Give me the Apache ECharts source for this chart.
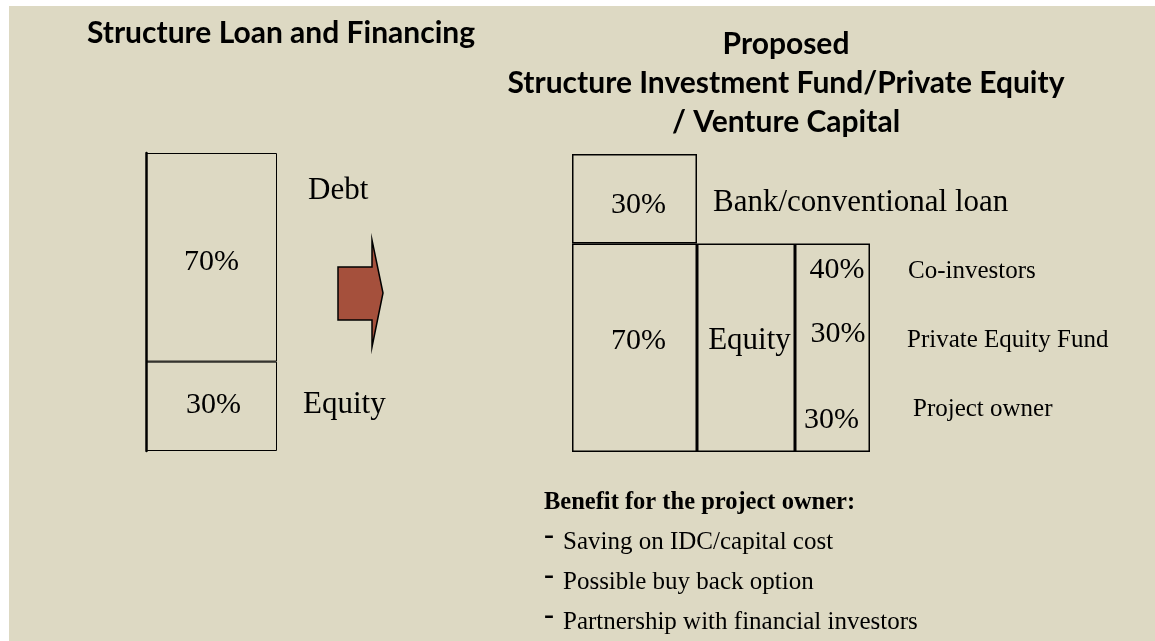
<!DOCTYPE html>
<html>
<head>
<meta charset="utf-8">
<script src="https://cdn.jsdelivr.net/npm/echarts@6/dist/echarts.min.js"></script>
<style>
html,body{margin:0;padding:0;background:#fff;}
#main{width:1155px;height:641px;}
</style>
</head>
<body>
<div id="main"></div>
<script>
// ---- data ----
const leftParts = ['Equity', 'Debt'];
const leftShares = [30, 70];
const rightParts = ['Equity', 'Bank/conventional loan'];
const rightShares = [70, 30];
const equityParts = ['Project owner', 'Private Equity Fund', 'Co-investors'];
const equityShares = [30, 30, 40];
const titleLeft = 'Structure Loan and Financing';
const titleRight = ['Proposed', 'Structure Investment Fund/Private Equity', '/ Venture Capital'];
const benefitHeading = 'Benefit for the project owner:';
const benefits = ['Saving on IDC/capital cost', 'Possible buy back option', 'Partnership with financial investors'];

// ---- styles ----
const serif = 'Liberation Serif';
const sans = 'Lato';
const black = '#000';
const beige = '#DDD9C3';
const arrowFill = '#A5503C';
const equityTotal = equityShares.reduce((a, b) => a + b, 0);

const chart = echarts.init(document.getElementById('main'));

const grids = [
  {left: 146, top: 153, width: 131, height: 298},
  {left: 572, top: 154, width: 125, height: 298},
  {left: 697, top: 154, width: 98, height: 298},
  {left: 795, top: 154, width: 75, height: 298}
];
const xAxes = grids.map((g, i) => ({type: 'category', gridIndex: i, data: ['x'], show: false}));
const yAxes = [
  {type: 'value', gridIndex: 0, min: 0, max: 100,
   axisLine: {show: true, lineStyle: {color: black, width: 2.5}},
   axisTick: {show: false}, axisLabel: {show: false}, splitLine: {show: false}},
  {type: 'value', gridIndex: 1, min: 0, max: 100, show: false},
  {type: 'value', gridIndex: 2, min: 0, max: 100, show: false},
  {type: 'value', gridIndex: 3, min: 0, max: equityTotal * 100 / rightShares[0], show: false}
];

function bar(gi, stack, name, value, border, label) {
  return {
    type: 'bar', name: name, xAxisIndex: gi, yAxisIndex: gi, stack: stack,
    data: [value], barWidth: '100%', barGap: '-100%', silent: true, animation: false,
    itemStyle: {color: 'rgba(0,0,0,0)', borderColor: border ? black : 'rgba(0,0,0,0)', borderWidth: border || 0},
    label: label ? Object.assign({show: true, color: black, fontFamily: serif, textBorderWidth: 0}, label) : {show: false}
  };
}
function pct(v, offset) {
  return {position: 'inside', formatter: v + '%', fontSize: 30, offset: offset};
}
function side(text, size, distance, offset) {
  return {position: 'right', formatter: text, fontSize: size, distance: distance, offset: offset};
}

const series = [];
// left structure: stacked box with percentages, plus overlapping label-only stack for names
const leftPctOff = [[2, -1], [0, 5]];
const leftSideOff = [[26, [0, -1]], [31, [0, -66]]];
leftShares.forEach((v, i) => series.push(bar(0, 'L', leftParts[i], v, 1, pct(v, leftPctOff[i]))));
leftShares.forEach((v, i) => series.push(bar(0, 'Ln', leftParts[i], v, 0,
  side(leftParts[i], 31, leftSideOff[i][0], leftSideOff[i][1]))));
// right main column
const rightPctOff = [[4, -7], [4, 6]];
rightShares.forEach((v, i) => series.push(bar(1, 'R', rightParts[i], v, 1.5, pct(v, rightPctOff[i]))));
series.push(bar(1, 'Rn', rightParts[0], rightShares[0], 0, null));
series.push(bar(1, 'Rn', rightParts[1], rightShares[1], 0, side(rightParts[1], 31, 16, [0, 4])));
// equity column
series.push(bar(2, 'E', rightParts[0], rightShares[0], 1.5,
  {position: 'inside', formatter: rightParts[0], fontSize: 31, offset: [3.5, -7]}));
// equity split column: outline + label-only stacks
series.push(bar(3, 'O', 'Equity split', equityTotal, 1.5, null));
const splitPctOff = [[-1, -1], [5.5, -24], [4.5, -14.6]];
const splitSideOff = [[43, [0, -11]], [37, [0, -17.5]], [38, [0, -14]]];
equityShares.forEach((v, i) => series.push(bar(3, 'S', equityParts[i], v, 0, pct(v, splitPctOff[i]))));
equityShares.forEach((v, i) => series.push(bar(3, 'Sn', equityParts[i], v, 0,
  side(equityParts[i], 25, splitSideOff[i][0], splitSideOff[i][1]))));

const option = {
  backgroundColor: '#fff',
  animation: false,
  grid: grids,
  xAxis: xAxes,
  yAxis: yAxes,
  title: [
    {text: titleLeft, left: 281, top: 33, textAlign: 'center', textVerticalAlign: 'middle', padding: 0,
     textStyle: {fontFamily: sans, fontWeight: 'bold', fontSize: 30, color: black}},
    {text: titleRight.join('\n'), left: 786, top: 83, textAlign: 'center', textVerticalAlign: 'middle', padding: 0,
     textStyle: {fontFamily: sans, fontWeight: 'bold', fontSize: 30, color: black, lineHeight: 39}},
    {text: benefitHeading, left: 544, top: 503, textAlign: 'left', textVerticalAlign: 'middle', padding: 0,
     textStyle: {fontFamily: serif, fontWeight: 'bold', fontSize: 24.5, color: black}},
    {text: benefits.join('\n'), left: 563, top: 582, textAlign: 'left', textVerticalAlign: 'middle', padding: 0,
     textStyle: {fontFamily: serif, fontWeight: 'normal', fontSize: 25, color: black, lineHeight: 40}},
    {text: benefits.map(() => '-').join('\n'), left: 544, top: 576, textAlign: 'left', textVerticalAlign: 'middle', padding: 0,
     textStyle: {fontFamily: serif, fontWeight: 'bold', fontSize: 30, color: black, lineHeight: 40}}
  ],
  graphic: [
    {type: 'rect', z: -10, silent: true, shape: {x: 9, y: 6, width: 1146, height: 635}, style: {fill: beige}},
    {type: 'polygon', silent: true,
     shape: {points: [[338, 267], [372, 267], [372, 240], [383, 293], [372, 347], [372, 320], [338, 320]]},
     style: {fill: arrowFill, stroke: black, lineWidth: 1.5}}
  ],
  series: series
};
chart.setOption(option);
</script>
</body>
</html>
